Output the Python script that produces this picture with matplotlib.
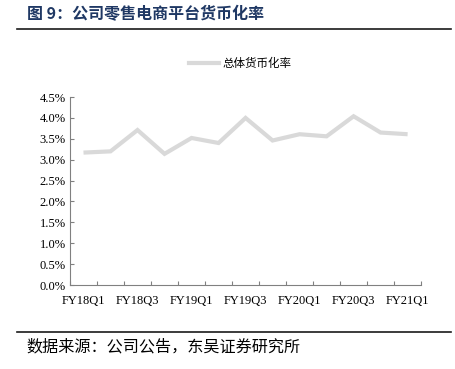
import matplotlib
matplotlib.use("Agg")
import matplotlib.pyplot as plt
from matplotlib.ticker import FuncFormatter, MultipleLocator
from matplotlib.lines import Line2D

# data
quarters = ["FY18Q1", "FY18Q2", "FY18Q3", "FY18Q4", "FY19Q1", "FY19Q2", "FY19Q3",
            "FY19Q4", "FY20Q1", "FY20Q2", "FY20Q3", "FY20Q4", "FY21Q1"]
take_rate = [3.17, 3.20, 3.71, 3.14, 3.52, 3.40, 4.00, 3.46, 3.61, 3.56, 4.04, 3.65, 3.61]

title = "图 9：公司零售电商平台货币化率"
series_name = "总体货币化率"
source = "数据来源：公司公告，东吴证券研究所"

cjk = ["Noto Sans CJK SC", "DejaVu Sans"]
serif = ["Liberation Serif", "DejaVu Serif"]

fig = plt.figure(figsize=(4.56, 3.69), dpi=100)
ax = fig.add_axes([0.1535, 0.2276, 0.77, 0.5094])

x = list(range(len(quarters)))
ax.plot(x, [v / 100 for v in take_rate], color="#d9d9d9", linewidth=3,
        solid_capstyle="butt", solid_joinstyle="miter")

ax.set_xlim(-0.5, len(quarters) - 0.5)
ax.set_ylim(0, 0.045)
ax.yaxis.set_major_locator(MultipleLocator(0.005))
ax.yaxis.set_major_formatter(FuncFormatter(lambda v, p: f"{v * 100:.1f}%"))

# category ticks between labels, labels on every other quarter
ax.set_xticks([i - 0.5 for i in range(len(quarters) + 1)])
ax.set_xticklabels([])
ax.set_xticks(x[::2], minor=True)
ax.set_xticklabels(quarters[::2], minor=True)
ax.tick_params(axis="x", which="major", direction="in", length=3, color="#808080")
ax.tick_params(axis="x", which="minor", length=0, pad=7)
ax.tick_params(axis="y", direction="in", length=3, color="#808080", pad=3)

for lab in ax.get_xticklabels(minor=True) + ax.get_yticklabels():
    lab.set_family(serif)
    lab.set_fontsize(9)
    lab.set_color("black")

for s in ["top", "right"]:
    ax.spines[s].set_visible(False)
for s in ["left", "bottom"]:
    ax.spines[s].set_color("#808080")
    ax.spines[s].set_linewidth(0.8)

# legend
handle = Line2D([], [], color="#d9d9d9", linewidth=3)
leg = ax.legend([handle], [series_name], loc="center", bbox_to_anchor=(0.485, 1.18),
                frameon=False, handlelength=2.6, handletextpad=0.3,
                prop={"family": cjk, "size": 8.3})

# title, rules and source
fig.text(0.059, 0.963, title, family=cjk, fontsize=11.5, fontweight="bold",
         color="#1f3864", va="center")
fig.add_artist(Line2D([0.037, 0.99], [0.921, 0.921], color="#1a1a1a", linewidth=1.2))
fig.add_artist(Line2D([0.037, 0.99], [0.100, 0.100], color="#1a1a1a", linewidth=1.2))
fig.text(0.059, 0.06, source, family=cjk, fontsize=11.6, color="black", va="center")

fig.savefig("out.png", dpi=100, facecolor="white")
